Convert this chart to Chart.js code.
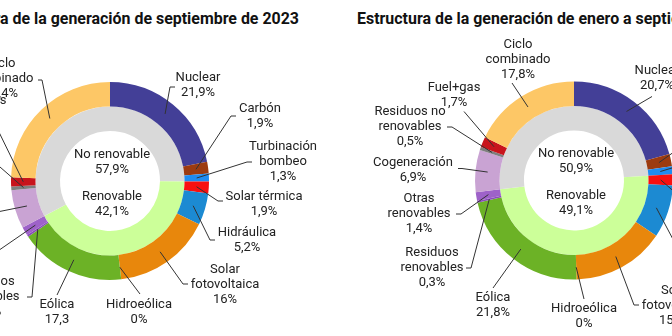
<!DOCTYPE html>
<html>
<head>
<meta charset="utf-8">
<script src="https://cdn.jsdelivr.net/npm/chart.js@4.4.0/dist/chart.umd.min.js"></script>
<style>
  html, body { margin: 0; padding: 0; background: #fff; }
  body { width: 672px; height: 336px; overflow: hidden; position: relative; }
  .title {
    position: absolute; top: 8px; white-space: nowrap;
    font: bold 17px Roboto, sans-serif; color: #111;
  }
  #t1 { right: 373px; transform-origin: right center; }
  #t2 { left: 357px; transform-origin: left center; }
  #probe { position: absolute; visibility: hidden; }
  .box { position: absolute; top: 0; width: 440px; height: 336px; }
</style>
</head>
<body>
<div class="title" id="t1">Estructura de la generación de septiembre de 2023</div>
<div class="title" id="t2">Estructura de la generación de enero a septiembre de 2023</div>
<span class="title" id="probe">a de la generación de septiembre de 2023</span>
<div class="box" style="left:-110px"><canvas id="sepChart" width="440" height="336"></canvas></div>
<div class="box" style="left:354px"><canvas id="ytdChart" width="440" height="336"></canvas></div>

<script>
// generation sources, clockwise from 12 o'clock
const sources = ["Nuclear", "Carbón", "Turbinación\nbombeo", "Solar térmica", "Hidráulica",
  "Solar\nfotovoltaica", "Hidroeólica", "Eólica", "Residuos\nrenovables", "Otras\nrenovables",
  "Cogeneración", "Residuos no\nrenovables", "Fuel+gas", "Ciclo\ncombinado"];
const isRenewable = [false, false, false, true, true, true, true, true, true, true, false, false, false, false];

// % share, september 2023
const sepValues = [21.9, 1.9, 1.3, 1.9, 5.2, 16, 0, 17.3, 0.3, 1.4, 6.3, 0.6, 1.5, 24.4];
// % share, january to september 2023
const ytdValues = [20.7, 2.0, 1.3, 1.8, 8.6, 15.2, 0, 21.8, 0.3, 1.4, 6.9, 0.5, 1.7, 17.8];

const groupNames = ["No renovable", "Renovable"];
const sepGroups = [57.9, 42.1];
const ytdGroups = [50.9, 49.1];

const sourceColors = ["#433f97", "#9c3b10", "#1f8cf0", "#f81010", "#1c8ad2", "#e8870c", "#5aa5d8",
  "#6cb226", "#8a4cba", "#9e62c9", "#c9a3d3", "#7f7f7f", "#c8141c", "#fdc766"];
const groupColors = ["#d9d9d9", "#ccff99"];

// squeeze the titles to the width of the condensed face in the original
const probeW = document.getElementById("probe").getBoundingClientRect().width;
const squeeze = 299 / probeW;
document.getElementById("t1").style.transform = "scaleX(" + squeeze + ")";
document.getElementById("t2").style.transform = "scaleX(" + squeeze + ")";

function fmt(v, pct) {
  return String(v).replace(".", ",") + (pct ? "%" : "");
}

// inner ring follows the outer order: non-renewable run, renewable run, non-renewable run
function innerRing(values, groups) {
  const first = values.slice(0, isRenewable.indexOf(true)).reduce((a, b) => a + b, 0);
  return [first, groups[1], +(groups[0] - first).toFixed(2)];
}

const leaderLabels = {
  id: "leaderLabels",
  afterDatasetsDraw(chart, args, opts) {
    const ctx = chart.ctx;
    const arcs = chart.getDatasetMeta(0).data;
    const cx = arcs[0].x, cy = arcs[0].y;
    const vals = chart.data.datasets[0].data;
    const lh = 15;
    ctx.save();
    ctx.font = "13px Roboto";
    ctx.fillStyle = "#222";
    ctx.strokeStyle = "#333";
    ctx.lineWidth = 1;
    ctx.textAlign = "center";
    ctx.textBaseline = "middle";
    opts.layout.forEach((p, i) => {
      if (!p) return;
      const [tx, ty, ex, ey, tick] = p;
      const c = arcs[i].tooltipPosition();
      ctx.beginPath();
      ctx.moveTo(c.x, c.y);
      ctx.lineTo(cx + ex, cy + ey);
      if (tick) ctx.lineTo(cx + ex + tick, cy + ey);
      ctx.stroke();
      const lines = chart.data.labels[i].split("\n");
      lines.push(fmt(vals[i], !(opts.noPct || []).includes(i)));
      lines.forEach((s, k) => ctx.fillText(s, cx + tx, cy + ty + (k - (lines.length - 1) / 2) * lh));
    });
    // group totals in the hole
    opts.groups.forEach((g, k) => {
      const y = cy + (k === 0 ? -19 : 23);
      ctx.fillText(groupNames[k], cx + 2, y - lh / 2);
      ctx.fillText(fmt(g, true), cx + 2, y + lh / 2);
    });
    ctx.restore();
  }
};

function makeChart(id, values, groups, layout, noPct, padTop) {
  return new Chart(document.getElementById(id), {
    type: "doughnut",
    data: {
      labels: sources,
      datasets: [
        { data: values, backgroundColor: sourceColors, borderWidth: 0 },
        { data: innerRing(values, groups), backgroundColor: [groupColors[0], groupColors[1], groupColors[0]], borderWidth: 0 }
      ]
    },
    options: {
      responsive: false,
      animation: false,
      events: [],
      radius: 99,
      cutout: "50.5%",
      layout: { padding: { top: padTop } },
      plugins: {
        legend: { display: false },
        tooltip: { enabled: false },
        leaderLabels: { layout: layout, noPct: noPct, groups: groups }
      }
    },
    plugins: [leaderLabels]
  });
}

// label placement relative to the centre: [text dx, text dy, elbow dx, elbow dy, tick]
const sepLayout = [
  [88, -95.5, 60, -94, 5],
  [150, -65, 121, -65, 5],
  [173, -19, 137, -19, 5],
  [154, 23.5, 108, 20, 5],
  [137, 59, 100, 59, 5],
  [115, 104, 73, 103, 5],
  [29, 131.5, 30, 113, 0],
  [-53, 131.5, -53, 114, 0],
  [-122, 116, -78, 116, -5],
  [-155, 74, -118, 74, -5],
  [-160, 38, -113, 31, -5],
  [-155, -21, -118, -21, -5],
  [-130, -73, -115, -57, 0],
  [-109, -102, -68, -101, -4]
];
const ytdLayout = [
  [83, -102, 78, -84, 0],
  [140, -40, 116, -40, 5],
  [140, -18, 116, -18, 5],
  [140, 25, 116, 25, 5],
  [130, 80, 106, 72, 5],
  [102, 125.5, 60, 124.5, 5],
  [10, 136, 10, 118.5, 0],
  [-81, 125, -81, 107.5, 0],
  [-142, 87.5, -103, 87.5, -5],
  [-155, 33.5, -113, 33.5, -5],
  [-161, -10, -112, -12, -4],
  [-164, -53.5, -122, -53.5, -5],
  [-120, -85, -110, -69, 0],
  [-56, -120.5, -62, -97.5, 0]
];

makeChart("sepChart", sepValues, sepGroups, sepLayout, [7], 26);
makeChart("ytdChart", ytdValues, ytdGroups, ytdLayout, [], 25);
</script>
</body>
</html>
